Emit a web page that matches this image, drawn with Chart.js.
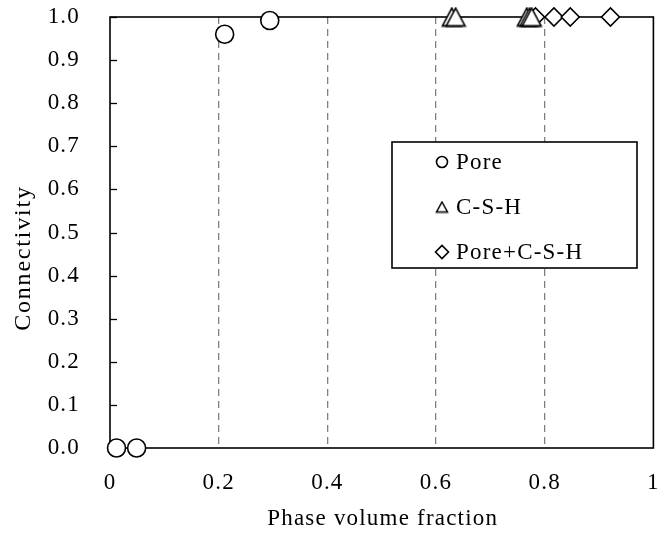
<!DOCTYPE html>
<html>
<head>
<meta charset="utf-8">
<script src="https://cdn.jsdelivr.net/npm/chart.js@4.4.0/dist/chart.umd.min.js"></script>
<style>
  html, body { margin: 0; padding: 0; background: #fff; }
  #wrap { width: 664px; height: 541px; }
</style>
</head>
<body>
<div id="wrap"><canvas id="c" width="664" height="541"></canvas></div>
<script>
// Tick positions on both axes
const xTicks = [0, 0.2, 0.4, 0.6, 0.8, 1];
const yTicks = [0, 0.1, 0.2, 0.3, 0.4, 0.5, 0.6, 0.7, 0.8, 0.9, 1.0];

// Connectivity versus phase volume fraction, per phase
const seriesNames = ['Pore', 'C-S-H', 'Pore+C-S-H'];
const poreX = [0.012, 0.049, 0.211, 0.294];
const poreY = [0, 0, 0.96, 0.992];
const cshX = [0.629, 0.636, 0.767, 0.772, 0.776];
const cshY = [1, 1, 1, 1, 1];
const bothX = [0.783, 0.817, 0.847, 0.921];
const bothY = [1, 1, 1, 1];

const xTitle = 'Phase volume fraction';
const yTitle = 'Connectivity';

const FONT_FAMILY = '"Liberation Serif", "Times New Roman", serif';
const FONT_SIZE = 23;
const SPACING = '1.2px';

// open triangle marker drawn centred on its bounding box
function makeTriangle(w, h, lw) {
  const cv = document.createElement('canvas');
  cv.width = w; cv.height = h;
  const g = cv.getContext('2d');
  g.beginPath();
  g.moveTo(w / 2, lw);
  g.lineTo(w - lw, h - lw);
  g.lineTo(lw, h - lw);
  g.closePath();
  g.fillStyle = '#fff';
  g.fill();
  g.lineWidth = lw;
  g.strokeStyle = '#000';
  g.lineJoin = 'miter';
  g.stroke();
  return cv;
}
const triBig = makeTriangle(22, 21, 1.6);
const triSmall = makeTriangle(14, 13, 1.5);

const toPts = (xs, ys) => xs.map((x, i) => ({ x: x, y: ys[i] }));

// keep the plot frame at a fixed place regardless of label overhang
const zeroPad = s => { s.paddingTop = 0; s.paddingBottom = 0; s.paddingLeft = 0; s.paddingRight = 0; };

const framePlugin = {
  id: 'frame',
  beforeDraw(chart) {
    chart.ctx.letterSpacing = SPACING;
  },
  beforeDatasetsDraw(chart) {
    const { ctx, chartArea: a, scales } = chart;
    ctx.save();
    ctx.strokeStyle = '#000';
    ctx.lineWidth = 1.6;
    ctx.strokeRect(a.left, a.top, a.right - a.left, a.bottom - a.top);
    // inward tick marks on the value axis
    ctx.lineWidth = 1.3;
    yTicks.forEach(v => {
      const y = Math.round(scales.y.getPixelForValue(v)) + 0.5;
      ctx.beginPath();
      ctx.moveTo(a.left, y);
      ctx.lineTo(a.left + 7, y);
      ctx.stroke();
    });
    ctx.restore();
  },
  afterDraw(chart) {
    const { ctx, chartArea: a } = chart;
    ctx.save();
    ctx.letterSpacing = SPACING;
    ctx.fillStyle = '#000';
    ctx.font = FONT_SIZE + 'px ' + FONT_FAMILY;
    ctx.textAlign = 'center';
    ctx.textBaseline = 'middle';
    // axis titles
    ctx.fillText(xTitle, (a.left + a.right) / 2 + 1, 519);
    ctx.save();
    ctx.translate(24, 259);
    ctx.rotate(-Math.PI / 2);
    ctx.font = (FONT_SIZE + 1) + 'px ' + FONT_FAMILY;
    ctx.letterSpacing = '1.8px';
    ctx.fillText(yTitle, 1, 0);
    ctx.restore();

    // legend box
    const bx = 392, by = 142, bw = 245, bh = 126;
    ctx.fillStyle = '#fff';
    ctx.fillRect(bx, by, bw, bh);
    ctx.strokeStyle = '#000';
    ctx.lineWidth = 1.6;
    ctx.strokeRect(bx, by, bw, bh);

    const markers = [
      { pointStyle: 'circle', radius: 5.5, borderWidth: 1.5, rotation: 0 },
      { pointStyle: triSmall, radius: 6, borderWidth: 1.5, rotation: 0 },
      { pointStyle: 'rectRot', radius: 6.5, borderWidth: 1.5, rotation: 0 }
    ];
    const rowY = [162, 207, 252];
    ctx.textAlign = 'left';
    seriesNames.forEach((name, i) => {
      ctx.fillStyle = '#fff';
      ctx.strokeStyle = '#000';
      Chart.helpers.drawPoint(ctx, markers[i], 442, rowY[i]);
      ctx.fillStyle = '#000';
      ctx.fillText(name, 456, rowY[i] + 1);
    });
    ctx.restore();
  }
};

const pointCommon = {
  showLine: false,
  pointRadius: 9,
  pointHoverRadius: 9,
  pointBorderWidth: 1.6,
  pointBorderColor: '#000',
  pointBackgroundColor: '#fff',
  clip: false
};

new Chart(document.getElementById('c'), {
  type: 'scatter',
  data: {
    datasets: [
      Object.assign({ label: seriesNames[0], data: toPts(poreX, poreY), pointStyle: 'circle' }, pointCommon),
      Object.assign({ label: seriesNames[1], data: toPts(cshX, cshY), pointStyle: triBig }, pointCommon),
      Object.assign({ label: seriesNames[2], data: toPts(bothX, bothY), pointStyle: 'rectRot' }, pointCommon)
    ]
  },
  options: {
    responsive: false,
    animation: false,
    devicePixelRatio: 1,
    events: [],
    layout: { padding: { top: 17, right: 9, left: 0, bottom: 0 } },
    font: { family: FONT_FAMILY, size: FONT_SIZE },
    plugins: { legend: { display: false }, tooltip: { enabled: false } },
    scales: {
      x: {
        type: 'linear',
        min: 0, max: 1,
        afterBuildTicks: s => { s.ticks = xTicks.map(v => ({ value: v })); },
        afterFit: s => { s.height = 93; zeroPad(s); },
        ticks: {
          color: '#000',
          padding: 21,
          font: { family: FONT_FAMILY, size: FONT_SIZE },
          maxRotation: 0,
          callback: v => String(v)
        },
        grid: {
          drawTicks: false,
          lineWidth: 1.3,
          color: c => (c.tick && (c.tick.value === 0 || c.tick.value === 1)) ? 'rgba(0,0,0,0)' : '#808080'
        },
        border: { display: false, dash: [7, 5] }
      },
      y: {
        type: 'linear',
        min: 0, max: 1,
        afterBuildTicks: s => { s.ticks = yTicks.map(v => ({ value: v })); },
        afterFit: s => { s.width = 110; zeroPad(s); },
        ticks: {
          color: '#000',
          padding: 30,
          font: { family: FONT_FAMILY, size: FONT_SIZE },
          callback: v => Number(v).toFixed(1)
        },
        grid: { display: false, drawTicks: false },
        border: { display: false }
      }
    }
  },
  plugins: [framePlugin]
});
</script>
</body>
</html>
